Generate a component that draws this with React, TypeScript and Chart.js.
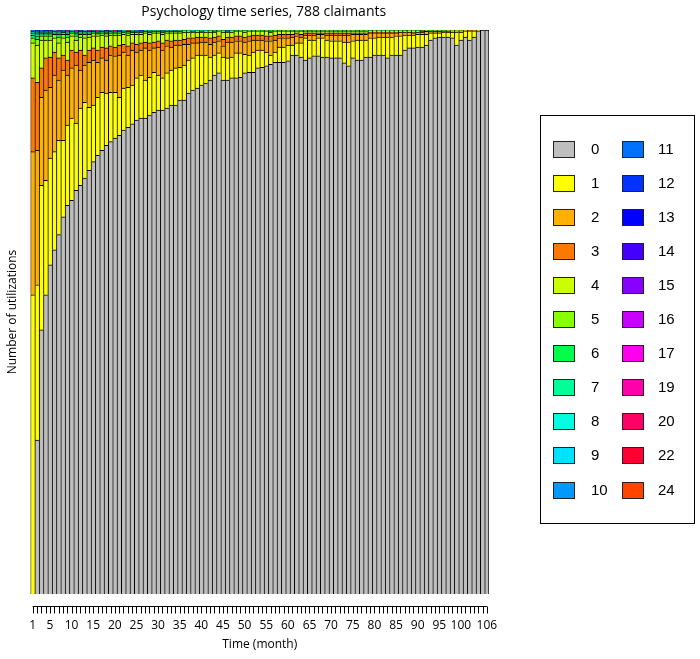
import React, { useEffect, useRef } from 'react';
import { Chart, registerables } from 'chart.js';

Chart.register(...registerables);

const TITLE = 'Psychology time series, 788 claimants';
const X_TITLE = 'Time (month)';
const Y_TITLE = 'Number of utilizations';
const TOTAL_CLAIMANTS = 788;
const N_MONTHS = 106;

const months: string[] = Array.from({ length: N_MONTHS }, (_, i) => String(i + 1));
const tickLabelMonths = [1, 5, 10, 15, 20, 25, 30, 35, 40, 45, 50, 55, 60, 65, 70, 75, 80, 85, 90, 95, 100, 106];

const categoryLabels = ['0', '1', '2', '3', '4', '5', '6', '7', '8', '9', '10', '11', '12', '13', '14', '15', '16', '17', '19', '20', '22', '24'];
const categoryColors = [
  '#BEBEBE', '#FFFF00', '#FFB000', '#FF7800', '#CCFF00', '#88FF00', '#00FF48', '#00FF99',
  '#00FFE2', '#00E0FF', '#0099FF', '#0070FF', '#0033FF', '#0000FF', '#4400FF', '#8800FF',
  '#CC00FF', '#FF00EE', '#FF00AA', '#FF0066', '#FF0033', '#FF4400',
];

const c0 = [0,215,369,418,460,481,502,527,543,550, 564,571,581,592,604,613,620,627,632,637, 641,648,652,657,662,665,665,669,673,676, 676,679,683,683,690,690,700,704,707,711, 714,718,725,728,718,718,721,721,722,728, 729,729,735,736,738,740,743,743,743,745, 753,753,750,746,749,752,752,750,750,749, 749,749,742,738,749,746,746,750,750,753, 753,753,749,753,753,753,760,763,763,764, 764,767,774,777,778,778,778,777,767,774, 778,774,778,787,788,788];
const c1 = [418,217,202,160,149,137,132,107,112,115, 94,108,106,88,79,81,81,73,69,64, 53,59,56,54,59,60,53,53,56,49, 45,49,49,52,46,49,46,45,46,42, 39,32,28,28,32,31,29,35,34,26, 24,28,25,24,19,13,14,21,21,22, 14,17,20,31,25,22,25,27,24,24, 24,24,29,33,24,28,28,24,27,24, 25,25,29,25,27,27,21,18,18,18, 18,15,10,7,6,7,7,8,18,11, 9,13,9,1,0,0];
const c2 = [200,188,123,126,99,107,84,98,70,70, 81,53,52,63,63,49,48,46,52,51, 59,50,45,49,36,35,45,38,34,39, 39,38,32,32,31,29,22,21,17,18, 18,18,18,17,16,22,21,17,17,17, 20,17,14,14,16,20,17,13,13,10, 11,10,8,4,7,7,5,5,7,8, 8,8,10,10,9,8,8,8,7,7, 6,6,6,6,4,5,4,4,3,3, 3,4,2,2,2,1,1,2,2,2, 0,0,1,0,0,0];
const c3 = [103,95,41,45,42,32,31,21,21,25, 18,28,14,17,17,17,15,17,13,12, 14,11,13,10,11,10,8,10,8,9, 10,8,9,7,7,7,9,7,8,7, 7,9,7,7,9,7,7,7,7,7, 7,7,7,7,7,7,7,5,5,5, 4,4,4,3,3,3,2,2,3,3, 3,3,3,3,2,2,2,2,1,1, 1,1,1,1,1,0,0,0,1,0, 1,0,0,0,0,0,1,0,0,0, 0,1,0,0,0,0];
const c4 = [49,52,39,25,24,20,21,24,25,20, 17,18,24,18,17,20,17,17,15,17, 14,14,15,12,14,12,13,12,13,11, 12,10,11,10,10,10,8,8,7,7, 7,8,7,7,10,7,7,7,7,7, 7,6,6,6,7,5,6,5,5,5, 5,3,5,3,3,3,3,3,3,3, 3,3,3,3,3,3,3,3,2,2, 2,2,2,2,2,2,2,2,2,2, 2,1,1,1,1,1,1,1,1,0, 1,0,0,0,0,0];
const c5 = [7,8,6,6,6,5,8,5,7,4, 6,4,5,4,4,3,3,3,3,3, 3,3,3,3,3,3,2,3,2,2, 3,2,2,2,2,2,2,1,2,1, 2,2,1,1,2,1,2,0,1,2, 1,0,1,0,1,1,1,0,1,1, 0,1,0,1,0,1,1,0,1,1, 0,1,0,1,1,0,1,1,0,1, 1,0,1,0,1,1,0,1,1,0, 0,1,0,1,1,0,0,0,0,1, 0,0,0,0,0,0];
const c6 = [4,5,3,3,3,2,4,3,4,2, 3,2,2,2,2,2,2,2,2,1, 2,1,2,1,1,1,1,1,1,1, 1,1,1,1,1,1,0,1,1,1, 0,1,1,0,1,1,0,1,0,1, 0,0,0,1,0,1,0,1,0,0, 1,0,0,0,1,0,0,1,0,0, 0,0,1,0,0,1,0,0,1,0, 0,0,0,1,0,0,1,0,0,1, 0,0,1,0,0,1,0,0,0,0, 0,0,0,0,0,0];
const c7 = [3,3,2,2,2,2,2,1,2,1, 2,2,2,2,1,1,1,1,1,1, 1,1,1,1,1,0,1,1,0,1, 1,0,1,0,1,0,1,0,0,1, 0,0,1,0,0,0,1,0,0,0, 0,1,0,0,0,1,0,0,0,0, 0,0,1,0,0,0,0,0,0,0, 1,0,0,0,0,0,0,0,0,0, 0,1,0,0,0,0,0,0,0,0, 0,0,0,0,0,0,0,0,0,0, 0,0,0,0,0,0];
const c8 = [2,2,1,1,1,1,1,1,1,0, 1,1,1,1,0,1,0,1,0,1, 0,0,0,1,0,1,0,0,1,0, 0,0,0,0,0,0,0,1,0,0, 0,0,0,0,0,0,0,0,0,0, 0,0,0,0,0,0,0,0,0,0, 0,0,0,0,0,0,0,0,0,0, 0,0,0,0,0,0,0,0,0,0, 0,0,0,0,0,0,0,0,0,0, 0,0,0,0,0,0,0,0,0,0, 0,0,0,0,0,0];

// sparse categories: [month, count]
const c9Pts: [number, number][] = [[1,1],[2,1],[3,1],[5,1],[6,1],[7,1],[9,1],[10,1],[13,1],[17,1],[22,1],[28,1],[32,1],[41,1]];
const c10Pts: [number, number][] = [[1,1],[2,1],[4,1],[7,1],[9,1],[11,1],[19,1],[25,1],[34,1]];
const c11Pts: [number, number][] = [[3,1],[8,1],[15,1],[21,1],[31,1],[46,1]];
const c12Pts: [number, number][] = [[2,1],[12,1],[26,1]];
const c13Pts: [number, number][] = [[4,1],[18,1]];
const c14Pts: [number, number][] = [[5,1]];
const c15Pts: [number, number][] = [[7,1]];
const c16Pts: [number, number][] = [[9,1]];
const c17Pts: [number, number][] = [[11,1]];
const c19Pts: [number, number][] = [[14,1]];
const c20Pts: [number, number][] = [[16,1]];
const c22Pts: [number, number][] = [[20,1]];
const c24Pts: [number, number][] = [[23,1]];

function fromPoints(pts: [number, number][]): number[] {
  const arr = new Array(N_MONTHS).fill(0);
  pts.forEach(([m, v]) => { arr[m - 1] = v; });
  return arr;
}

const seriesData: number[][] = [
  c0, c1, c2, c3, c4, c5, c6, c7, c8,
  fromPoints(c9Pts), fromPoints(c10Pts), fromPoints(c11Pts), fromPoints(c12Pts),
  fromPoints(c13Pts), fromPoints(c14Pts), fromPoints(c15Pts), fromPoints(c16Pts),
  fromPoints(c17Pts), fromPoints(c19Pts), fromPoints(c20Pts), fromPoints(c22Pts), fromPoints(c24Pts),
];

const TEXT_FONT = '"Open Sans", sans-serif';
const LEGEND_FONT = '"Liberation Sans", Arial, sans-serif';

const decorPlugin = {
  id: 'decor',
  afterDraw(chart: any) {
    const ctx = chart.ctx as CanvasRenderingContext2D;
    const area = chart.chartArea;
    const xs = chart.scales.x;
    ctx.save();
    ctx.fillStyle = '#000';
    ctx.strokeStyle = '#000';
    ctx.lineWidth = 1;

    // title
    ctx.font = `14px ${TEXT_FONT}`;
    ctx.textAlign = 'center';
    ctx.textBaseline = 'middle';
    const cx = (area.left + area.right) / 2;
    ctx.fillText(TITLE, cx + 4, 12.5);

    // x axis line + ticks
    const axisY = 606.5;
    const first = xs.getPixelForValue(0);
    const last = xs.getPixelForValue(N_MONTHS - 1);
    ctx.beginPath();
    ctx.moveTo(first, axisY);
    ctx.lineTo(last, axisY);
    for (let i = 0; i < N_MONTHS; i++) {
      const px = Math.round(xs.getPixelForValue(i)) + 0.5;
      ctx.moveTo(px, axisY);
      ctx.lineTo(px, axisY + 7);
    }
    ctx.stroke();

    ctx.font = `12px ${TEXT_FONT}`;
    tickLabelMonths.forEach((m) => {
      ctx.fillText(String(m), xs.getPixelForValue(m - 1), 626);
    });
    ctx.fillText(X_TITLE, cx, 645);

    // y title
    ctx.save();
    ctx.translate(13, (area.top + area.bottom) / 2);
    ctx.rotate(-Math.PI / 2);
    ctx.fillText(Y_TITLE, 0, 0);
    ctx.restore();

    // legend
    ctx.strokeRect(540.5, 115.5, 154, 408);
    ctx.font = `15px ${LEGEND_FONT}`;
    ctx.textAlign = 'left';
    categoryLabels.forEach((lab, i) => {
      const col = i < 11 ? 0 : 1;
      const row = i % 11;
      const sx = col === 0 ? 552.5 : 621.5;
      const sy = 140.5 + row * 34.1;
      ctx.fillStyle = categoryColors[i];
      ctx.fillRect(Math.round(sx), Math.round(sy), 21, 16);
      ctx.strokeStyle = '#222';
      ctx.strokeRect(Math.round(sx) + 0.5, Math.round(sy) + 0.5, 21, 16);
      ctx.fillStyle = '#000';
      ctx.fillText(lab, col === 0 ? 591 : 658, Math.round(sy) + 9);
    });
    ctx.restore();
  },
};

export default function App() {
  const canvasRef = useRef<HTMLCanvasElement | null>(null);

  useEffect(() => {
    const canvas = canvasRef.current;
    if (!canvas) return;
    const datasets = seriesData.map((data, i) => ({
      label: categoryLabels[i],
      data,
      backgroundColor: categoryColors[i],
      borderColor: '#000',
      borderWidth: (c: any) => ({ top: 1, left: 1, right: c.dataIndex === N_MONTHS - 1 ? 1 : 0, bottom: 0 }),
      borderSkipped: false,
      barPercentage: 1,
      categoryPercentage: 1,
    }));
    const chart = new Chart(canvas, {
      type: 'bar',
      data: { labels: months, datasets },
      options: {
        responsive: false,
        animation: false,
        layout: { padding: { left: 30.5, top: 30, right: 211, bottom: 65 } },
        scales: {
          x: { stacked: true, display: false },
          y: { stacked: true, display: false, min: 0, max: TOTAL_CLAIMANTS },
        },
        plugins: {
          legend: { display: false },
          tooltip: { enabled: false },
          title: { display: false },
        },
      },
      plugins: [decorPlugin],
    });
    return () => chart.destroy();
  }, []);

  return (
    <div style={{ position: 'fixed', left: 0, top: 0, width: 700, height: 659, background: '#fff' }}>
      <canvas ref={canvasRef} width={700} height={659} style={{ display: 'block' }} />
    </div>
  );
}
